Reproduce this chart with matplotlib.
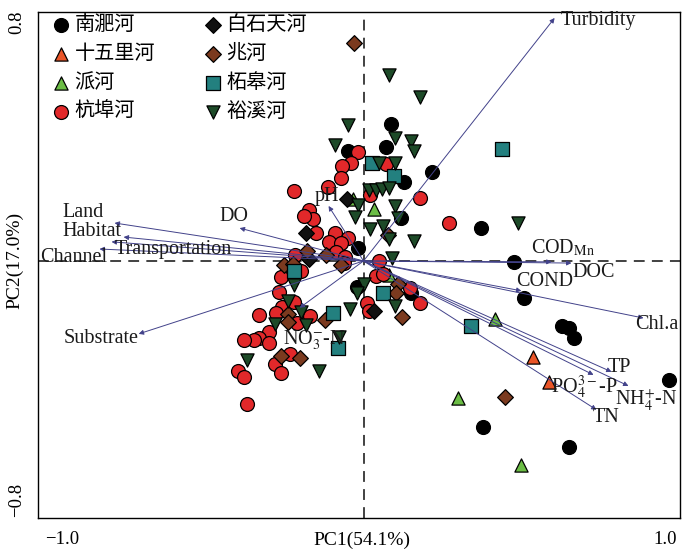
import numpy as np
import matplotlib

matplotlib.use("Agg")
import matplotlib.pyplot as plt
from matplotlib.font_manager import FontProperties

plt.rcParams["font.family"] = ["Liberation Serif", "DejaVu Serif"]
plt.rcParams["mathtext.fontset"] = "stix"

# ---- sample scores (PC1, PC2) per river ----
nanfei_x = [-0.053, 0.090, 0.073, 0.133, 0.226, 0.126, 0.391, -0.017, -0.020, 0.159,
            0.498, 0.531, 0.657, 0.683, 0.697, 1.015, 0.398, 0.683]
nanfei_y = [0.368, 0.458, 0.381, 0.264, 0.298, 0.144, 0.110, 0.043, -0.087, -0.107,
            -0.003, -0.124, -0.217, -0.224, -0.257, -0.398, -0.555, -0.622]

shiwuli_x = [0.561, 0.617]
shiwuli_y = [-0.321, -0.405]

pai_x = [-0.036, 0.036, 0.086, 0.435, 0.312, 0.524]
pai_y = [0.207, 0.174, -0.047, -0.194, -0.458, -0.682]

hangbu_x = [-0.017, -0.040, -0.070, -0.076, -0.229, -0.119, 0.020, 0.186, -0.182, -0.166,
            -0.196, 0.285, -0.159, -0.096, -0.053, -0.113, -0.076, -0.090, -0.063, -0.066,
            -0.226, -0.209, -0.275, -0.282, -0.229, -0.272, -0.348, -0.289, -0.176, -0.222,
            -0.312, -0.348, -0.365, -0.395, -0.315, -0.245, -0.295, -0.275, -0.418, -0.395,
            -0.385, 0.076, 0.053, 0.043, 0.063, 0.153, 0.186, 0.010, 0.017]
hangbu_y = [0.364, 0.328, 0.318, 0.278, 0.234, 0.247, 0.221, 0.211, 0.171, 0.140,
            0.150, 0.127, 0.094, 0.094, 0.077, 0.064, 0.060, 0.030, 0.013, -0.007,
            0.020, -0.033, -0.054, -0.104, -0.137, -0.154, -0.181, -0.174, -0.184, -0.207,
            -0.237, -0.257, -0.264, -0.264, -0.274, -0.311, -0.344, -0.375, -0.368, -0.388,
            -0.478, 0.324, 0.000, -0.050, -0.043, -0.090, -0.140, -0.140, -0.167]

baishitian_x = [-0.056, -0.192, -0.182, 0.036]
baishitian_y = [0.207, 0.094, 0.007, -0.167]

zhao_x = [-0.033, 0.080, -0.126, -0.076, -0.189, -0.265, -0.235, 0.116, 0.109, 0.129,
          -0.252, -0.252, -0.129, -0.275, -0.212, 0.468]
zhao_y = [0.729, 0.087, 0.020, -0.013, 0.033, -0.013, -0.010, -0.077, -0.107, -0.187,
          -0.177, -0.204, -0.197, -0.318, -0.324, -0.455]

zhegao_x = [0.027, 0.100, 0.458, -0.232, 0.066, -0.100, -0.086, 0.358]
zhegao_y = [0.328, 0.284, 0.375, -0.033, -0.107, -0.174, -0.291, -0.217]

yuxi_x = [0.083, 0.186, -0.050, -0.093, 0.106, 0.156, 0.169, 0.053, 0.103, 0.017,
          0.043, 0.060, 0.083, -0.017, 0.103, -0.027, 0.116, 0.020, 0.066, 0.086,
          0.166, 0.514, 0.093, 0.003, -0.020, -0.229, -0.252, -0.206, -0.295, -0.192,
          -0.046, -0.083, -0.388, -0.149, 0.103]
yuxi_y = [0.622, 0.548, 0.455, 0.388, 0.411, 0.401, 0.368, 0.328, 0.328, 0.237,
          0.237, 0.241, 0.244, 0.187, 0.184, 0.147, 0.144, 0.107, 0.117, 0.074,
          0.067, 0.127, 0.010, -0.077, -0.107, -0.080, -0.134, -0.171, -0.211, -0.214,
          -0.161, -0.254, -0.331, -0.368, -0.150]

rivers = ["南淝河", "十五里河", "派河", "杭埠河", "白石天河", "兆河", "柘皋河", "裕溪河"]

# ---- environmental variable loadings ----
env_names = ["Turbidity", "Land", "Habitat", "Transportation", "Channel", "DO", "pH",
             "Substrate", r"NO$_3^{-}$-N", r"COD$_{\mathrm{Mn}}$", "DOC", "COND", "Chl.a",
             "TP", r"PO$_4^{3-}$-P", r"NH$_4^{+}$-N", "TN"]
env_pc1 = [0.634, -0.826, -0.796, -0.836, -0.876, -0.411, -0.116, -0.746, -0.212,
           0.624, 0.690, 0.524, 0.929, 0.823, 0.763, 0.879, 0.773]
env_pc2 = [0.813, 0.127, 0.080, 0.064, 0.040, 0.110, 0.184, -0.244, -0.157,
           -0.003, -0.007, -0.100, -0.191, -0.371, -0.381, -0.418, -0.498]

# label anchor points (layout only)
label_pos = [(0.779, 0.806), (-0.929, 0.161), (-0.902, 0.097), (-0.630, 0.040),
             (-0.962, 0.013), (-0.431, 0.150), (-0.123, 0.217), (-0.869, -0.258),
             (-0.163, -0.264), (0.663, 0.043), (0.763, -0.037), (0.600, -0.070),
             (0.972, -0.214), (0.849, -0.355), (0.733, -0.421), (0.939, -0.465),
             (0.806, -0.525)]

styles = [
    ("o", "#000000"),
    ("^", "#ea5528"),
    ("^", "#6bbd45"),
    ("o", "#e2282a"),
    ("D", "#111111"),
    ("D", "#7b3a1f"),
    ("s", "#23807f"),
    ("v", "#1d4a28"),
]
sizes = [100, 90, 90, 100, 64, 64, 90, 90]

series = [(nanfei_x, nanfei_y), (shiwuli_x, shiwuli_y), (pai_x, pai_y),
          (hangbu_x, hangbu_y), (baishitian_x, baishitian_y), (zhao_x, zhao_y),
          (zhegao_x, zhegao_y), (yuxi_x, yuxi_y)]

fig = plt.figure(figsize=(6.88, 5.53), dpi=100)
ax = fig.add_axes([38 / 688, 35 / 553, 642 / 688, 506 / 553])

ax.axhline(0, color="#333333", lw=1.3, ls=(0, (6, 4)), zorder=1)
ax.axvline(0, color="#333333", lw=1.3, ls=(0, (6, 4)), zorder=1)

for (xs, ys), (m, c), s, name in zip(series, styles, sizes, rivers):
    ax.scatter(xs, ys, marker=m, s=s, c=c, edgecolors="black", linewidths=0.9,
               label=name, zorder=2)

arrow_col = "#42428a"
for name, px, py, (lx, ly) in zip(env_names, env_pc1, env_pc2, label_pos):
    ax.annotate("", xy=(px, py), xytext=(0, 0),
                arrowprops=dict(arrowstyle="-|>", color=arrow_col, lw=0.7,
                                mutation_scale=7, shrinkA=0, shrinkB=0),
                zorder=3)
    ax.text(lx, ly, name, fontsize=14.5, ha="center", va="center", color="#1a1a1a",
            zorder=4)

ax.set_xlim(-1.08, 1.05)
ax.set_ylim(-0.86, 0.833)
ax.set_xticks([-1, 1])
ax.set_xticklabels(["\u22121.0", "1.0"], fontsize=13.5)
ax.set_yticks([-0.8, 0.8])
ax.set_yticklabels(["\u22120.8", "0.8"], fontsize=13.5, rotation=90, va="center")
ax.tick_params(length=0)
ax.tick_params(axis="x", pad=9)
ax.tick_params(axis="y", pad=9)

ax.text(0.505, -0.045, "PC1(54.1%)", transform=ax.transAxes, fontsize=14,
        ha="center", va="center")
ax.text(-0.037, 0.51, "PC2(17.0%)", transform=ax.transAxes, fontsize=14,
        ha="center", va="center", rotation=90)

for sp in ax.spines.values():
    sp.set_linewidth(1.0)

leg = ax.legend(loc="upper left", bbox_to_anchor=(0.005, 1.012), ncol=2, frameon=False,
                prop=FontProperties(family="Noto Sans CJK SC", size=14.5),
                handletextpad=0.05, labelspacing=0.4, columnspacing=2.3,
                borderaxespad=0, handlelength=1.2, markerscale=1.0)

fig.savefig("out.png", dpi=100)
